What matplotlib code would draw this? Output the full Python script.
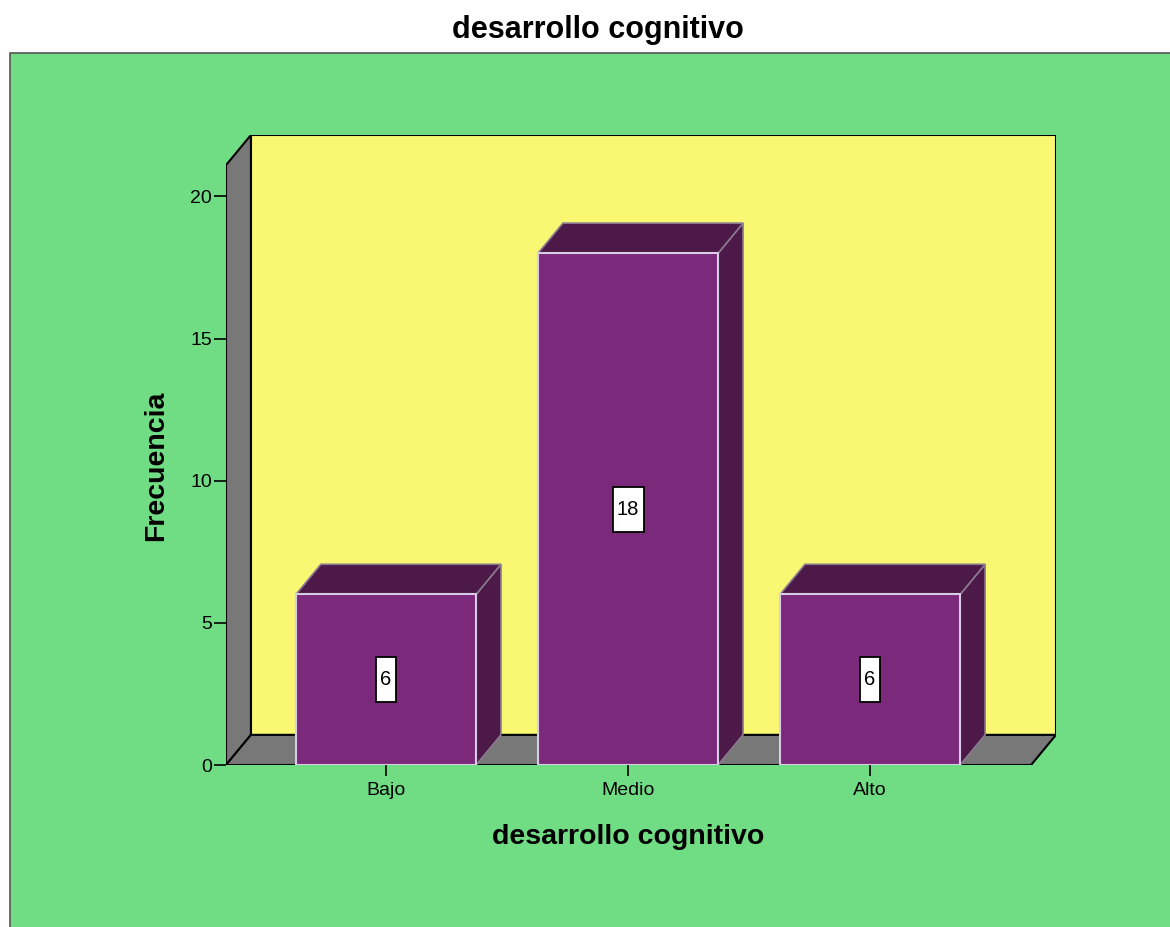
import matplotlib
matplotlib.use("Agg")
import matplotlib.pyplot as plt
from matplotlib.patches import Polygon, Rectangle

plt.rcParams['font.family'] = ['Liberation Sans', 'DejaVu Sans']

categorias = ['Bajo', 'Medio', 'Alto']
frecuencias = [6, 18, 6]
yticks = [0, 5, 10, 15, 20]

titulo = 'desarrollo cognitivo'
xlabel = 'desarrollo cognitivo'
ylabel = 'Frecuencia'

verde = '#70DD84'
amarillo = '#FAF773'
gris = '#787878'
morado = '#7B2A7B'
morado_osc = '#4D1949'
borde_barra = '#D8CCE6'

# 3d geometry (data units)
x0, x1 = -0.661, 2.665
techo = 21.1
dx, dy = 0.103, 1.06
ancho = 0.744

fig = plt.figure(figsize=(11.7, 9.27), dpi=100)
fig.patches.append(Rectangle((10 / 1170, -0.01), 1.0, 1 - 53 / 927 + 0.01,
                             transform=fig.transFigure, facecolor=verde,
                             edgecolor='#555555', lw=1.2, zorder=-5))

ax = fig.add_axes([226 / 1170, (927 - 765) / 927, 830 / 1170, 630 / 927])
ax.set_zorder(2)
ax.set_xlim(x0, x1 + dx)
ax.set_ylim(0, techo + dy)
ax.patch.set_visible(False)
for s in ax.spines.values():
    s.set_visible(False)

# walls
ax.add_patch(Polygon([(x0 + dx, dy), (x1 + dx, dy), (x1 + dx, techo + dy), (x0 + dx, techo + dy)],
                     closed=True, facecolor=amarillo, edgecolor='black', lw=1.5, zorder=1))
ax.add_patch(Polygon([(x0, 0), (x0 + dx, dy), (x0 + dx, techo + dy), (x0, techo)],
                     closed=True, facecolor=gris, edgecolor='black', lw=1.5, zorder=2))
ax.add_patch(Polygon([(x0, 0), (x1, 0), (x1 + dx, dy), (x0 + dx, dy)],
                     closed=True, facecolor=gris, edgecolor='black', lw=1.5, zorder=2))

# bars
for i, v in enumerate(frecuencias):
    l, r = i - ancho / 2, i + ancho / 2
    ax.add_patch(Polygon([(r, 0), (r + dx, dy), (r + dx, v + dy), (r, v)],
                         closed=True, facecolor=morado_osc, edgecolor='#8A7A90', lw=1.2, zorder=3))
    ax.add_patch(Polygon([(l, v), (r, v), (r + dx, v + dy), (l + dx, v + dy)],
                         closed=True, facecolor=morado_osc, edgecolor='#8A7A90', lw=1.2, zorder=3))
    ax.add_patch(Rectangle((l, 0), ancho, v, facecolor=morado, edgecolor=borde_barra,
                           lw=1.5, zorder=4))
    txt = str(v)
    bw = 0.038 + 0.045 * len(txt)
    ax.add_patch(Rectangle((i - bw / 2, v / 2 - 0.79), bw, 1.58, facecolor='white',
                           edgecolor='black', lw=1.3, zorder=5))
    ax.text(i, v / 2, txt, ha='center', va='center', fontsize=14.5, zorder=6)

ax.set_xticks(range(len(categorias)))
ax.set_xticklabels(categorias, fontsize=14)
ax.set_yticks(yticks)
ax.set_yticklabels([str(t) for t in yticks], fontsize=14)
ax.tick_params(axis='y', length=9, width=1.2, pad=1)
ax.tick_params(axis='x', length=8, width=1.2, pad=4)

ax.set_xlabel(xlabel, fontsize=20.5, fontweight='bold', va='center')
ax.xaxis.set_label_coords((628 - 226) / 830, -(837 - 765) / 630)
ax.set_ylabel(ylabel, fontsize=20.5, fontweight='bold', va='center')
ax.yaxis.set_label_coords((156 - 226) / 830, (765 - 466) / 630)

fig.text(598 / 1170, 1 - 30 / 927, titulo, ha='center', va='center',
         fontsize=22, fontweight='bold')

fig.savefig('out.png', dpi=100)
